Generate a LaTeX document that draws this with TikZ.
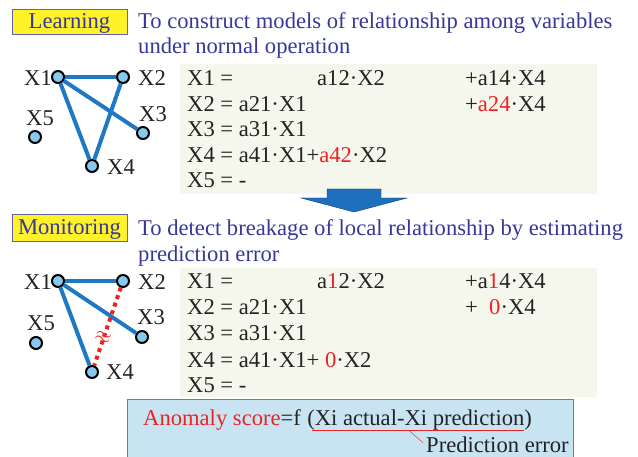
\documentclass[tikz,border=0pt]{standalone}
\usepackage{fontspec}
\setmainfont{Liberation Serif}
\usepackage{xcolor}
\definecolor{TitleBlue}{RGB}{55,55,155}
\definecolor{LabelYellow}{RGB}{255,242,40}
\definecolor{LabelFrame}{RGB}{100,100,170}
\definecolor{EdgeBlue}{RGB}{30,120,195}
\definecolor{NodeBlue}{RGB}{135,200,238}
\definecolor{PanelBeige}{RGB}{245,246,236}
\definecolor{AlertRed}{RGB}{235,35,35}
\definecolor{ArrowBlue}{RGB}{30,112,190}
\definecolor{ScoreBlue}{RGB}{200,228,242}
\definecolor{ScoreFrame}{RGB}{120,125,135}
\definecolor{TextDark}{RGB}{35,35,35}
\usepackage{tikz}
\usetikzlibrary{calc, positioning}
\newcommand{\Mdot}{\textperiodcentered}
\newcommand{\Hot}[1]{\textcolor{AlertRed}{#1}}
\newcommand{\bodyfont}{\fontsize{22.6}{25}\selectfont}

\begin{document}
\begin{tikzpicture}[
    x=1pt, y=-1pt,
    font=\bodyfont,
    phase_label/.style={draw=LabelFrame, fill=LabelYellow, thick, minimum width=115pt, minimum height=25pt, inner sep=0pt, text height=14pt, text depth=0pt, text=TitleBlue},
    phase_title/.style={anchor=base west, inner sep=0pt, text=TitleBlue},
    var_node/.style={circle, draw=black, fill=NodeBlue, line width=2pt, minimum size=12pt, inner sep=0pt},
    var_label/.style={anchor=base west, inner sep=0pt, text=TextDark},
    link/.style={EdgeBlue, line width=4pt},
    broken_link/.style={AlertRed, line width=4pt, dash pattern=on 4pt off 4pt},
    eq_line/.style={anchor=base west, inner sep=0pt, text=TextDark},
    leader/.style={AlertRed, thin}
]
    \useasboundingbox (0,0) rectangle (638,457);

    % 1. LEARNING PHASE
    \node[phase_label] (learn) at (69.5,21.5) {Learning};
    \node[phase_title] (learnA) at (138,29) {To construct models of relationship among variables};
    \node[phase_title] (learnB) at (138,54) {under normal operation};

    % 2. LEARNED GRAPH
    \foreach \n/\x/\y in {1/58/77, 2/123/77, 3/143/133, 4/92/166, 5/35/137}
        \node[var_node] (a\n) at (\x,\y) {};
    \foreach \n/\x/\y in {1/24/86, 2/138/86, 3/139/122, 4/107/175, 5/26/126}
        \node[var_label] (al\n) at (\x,\y) {X\n};
    \draw[link] (a1) -- (a2);
    \draw[link] (a1) -- (a3);
    \draw[link] (a1) -- (a4);
    \draw[link] (a2) -- (a4);

    % 3. LEARNED MODELS
    \fill[PanelBeige] (180,64) rectangle (597,194);
    \node[eq_line] (ea1) at (187,86) {X1 =};
    \node[eq_line] (ea1b) at (317,86) {a12\Mdot X2};
    \node[eq_line] (ea1c) at (465,86) {+a14\Mdot X4};
    \node[eq_line] (ea2) at (187,111.5) {X2 = a21\Mdot X1};
    \node[eq_line] (ea2c) at (465,111.5) {+\Hot{a24}\Mdot X4};
    \node[eq_line] (ea3) at (187,137) {X3 = a31\Mdot X1};
    \node[eq_line] (ea4) at (187,162.5) {X4 = a41\Mdot X1+\Hot{a42}\Mdot X2};
    \node[eq_line] (ea5) at (187,188) {X5 = -};

    % 4. DOWN ARROW
    \filldraw[fill=ArrowBlue, draw=ArrowBlue!55!black, thin]
        (327,189) -- (381,189) -- (381,198) -- (407,198) -- (354,212) -- (301,198) -- (327,198) -- cycle;

    % 5. MONITORING PHASE
    \node[phase_label, minimum height=27pt, text height=15pt] (monitor) at (69.5,227.5) {Monitoring};
    \node[phase_title] (monA) at (138,236) {To detect breakage of local relationship by estimating};
    \node[phase_title] (monB) at (138,262) {prediction error};

    % 6. MONITORED GRAPH
    \foreach \n/\x/\y in {1/58/281, 2/123/281, 3/142/337, 4/92/372, 5/36/343}
        \node[var_node] (b\n) at (\x,\y) {};
    \foreach \n/\x/\y in {1/24/290, 2/138/290, 3/137/325, 4/106/380, 5/27/331}
        \node[var_label] (bl\n) at (\x,\y) {X\n};
    \draw[link] (b1) -- (b2);
    \draw[link] (b1) -- (b3);
    \draw[link] (b1) -- (b4);
    \draw[broken_link] (b2) -- (b4);
    \node[text=AlertRed, rotate=-20, inner sep=0pt, font=\fontsize{22}{22}\selectfont] (brk) at (103,338) {$\approx$};

    % 7. MONITORED MODELS
    \fill[PanelBeige] (180,268) rectangle (597,397);
    \node[eq_line] (eb1) at (187,289) {X1 =};
    \node[eq_line] (eb1b) at (317,289) {a\Hot{1}2\Mdot X2};
    \node[eq_line] (eb1c) at (465,289) {+a\Hot{1}4\Mdot X4};
    \node[eq_line] (eb2) at (187,315) {X2 = a21\Mdot X1};
    \node[eq_line] (eb2c) at (465,315) {+\ \ \Hot{0}\Mdot X4};
    \node[eq_line] (eb3) at (187,341) {X3 = a31\Mdot X1};
    \node[eq_line] (eb4) at (187,367) {X4 = a41\Mdot X1+ \Hot{0}\Mdot X2};
    \node[eq_line] (eb5) at (187,392) {X5 = -};

    % 8. ANOMALY SCORE
    \draw[ScoreFrame, fill=ScoreBlue, thick] (127,399) rectangle (573,462);
    \node[eq_line] (score) at (143,425) {\Hot{Anomaly score}=f};
    \node[eq_line, xshift=6pt] (expr) at (score.base east) {(Xi actual-Xi prediction)};
    \draw[leader, shorten <=5pt, shorten >=8pt] (expr.south west) -- (expr.south east);
    \coordinate (tick) at ($(expr.south west)!0.45!(expr.south east)$);
    \node[eq_line] (perr) at (426,453) {Prediction error};
    \draw[leader, shorten >=4pt] (tick) -- (perr.west);

\end{tikzpicture}
\end{document}
